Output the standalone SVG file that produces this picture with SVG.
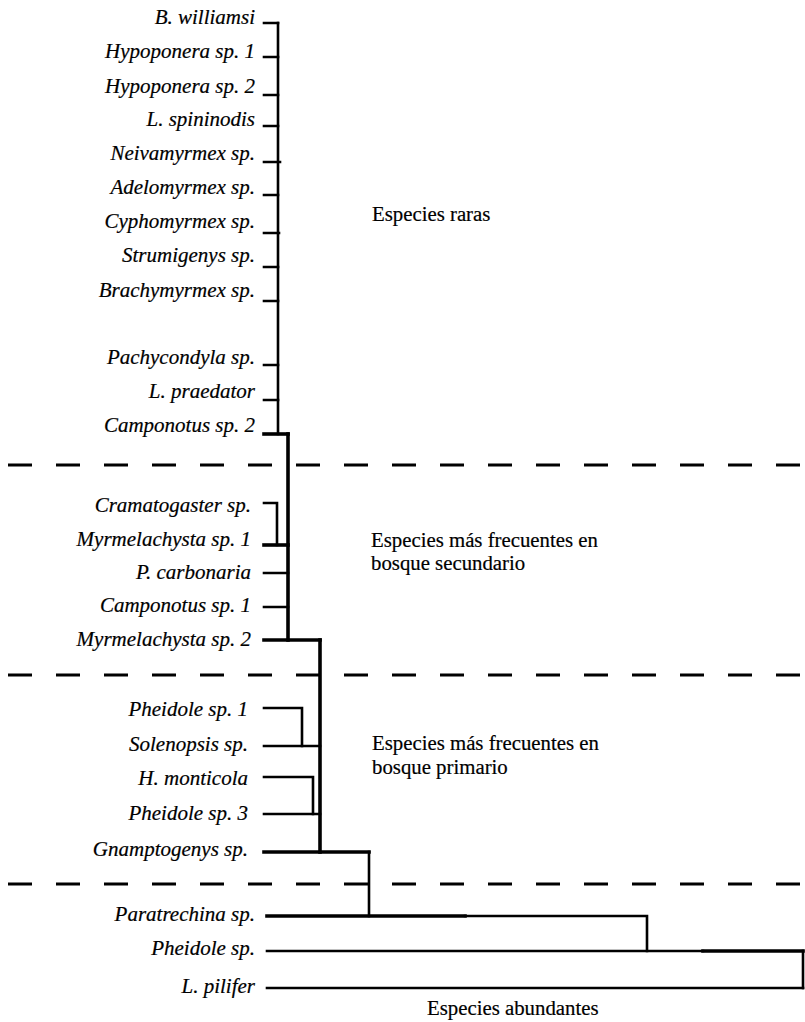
<svg xmlns="http://www.w3.org/2000/svg" width="805" height="1022" viewBox="0 0 805 1022">
<style>
.sp{font-family:'Liberation Serif','Times New Roman',serif;font-style:italic;font-size:21px;fill:#000;text-anchor:end;stroke:#000;stroke-width:0.2px}
.grp{font-family:'Liberation Serif','Times New Roman',serif;font-size:20.8px;fill:#000;stroke:#000;stroke-width:0.2px}
.ln{stroke:#000;stroke-width:2.6;fill:none;stroke-linecap:square}
.th{stroke:#000;stroke-width:3.6;fill:none;stroke-linecap:square}
.dash{stroke:#000;stroke-width:3;stroke-dasharray:24 24;fill:none}
</style>
<rect width="805" height="1022" fill="#fff"/>
<g id="separators">
<line class="dash" x1="8" y1="465" x2="805" y2="465"/>
<line class="dash" x1="8" y1="675" x2="805" y2="675"/>
<line class="dash" x1="8" y1="884" x2="805" y2="884"/>
</g>
<g id="connectors">
<path class="ln" d="M264 23H278M264 57H278M264 95H278M264 126H278M264 162H280M264 195H278M264 233H279M264 267H278M264 301H278M264 365H278M264 400H278"/>
<path class="ln" d="M278 23V434"/>
<path class="th" d="M264 434H288"/>
<path class="th" d="M288 434V640"/>
<path class="ln" d="M264 503H277V545"/>
<path class="th" d="M264 545H288"/>
<path class="ln" d="M264 573H288M264 607H288"/>
<path class="th" d="M264 640H320"/>
<path class="th" d="M320 640V852"/>
<path class="ln" d="M264 708H302V746"/>
<path class="ln" d="M264 746H320"/>
<path class="ln" d="M264 777H313V814"/>
<path class="ln" d="M264 814H320"/>
<path class="th" d="M264 852H369"/>
<path class="ln" d="M369 852V916"/>
<path class="th" d="M267 916H465"/>
<path class="ln" d="M465 916H647V951"/>
<path class="ln" d="M267 951H703"/>
<path class="th" d="M703 951H803"/>
<path class="ln" d="M803 951V988"/>
<path class="ln" d="M267 988H803"/>
</g>
<g id="n-b-williamsi"><text class="sp" x="255" y="24">B. williamsi</text></g>
<g id="n-hypoponera-1"><text class="sp" x="255" y="58">Hypoponera sp. 1</text></g>
<g id="n-hypoponera-2"><text class="sp" x="255" y="93">Hypoponera sp. 2</text></g>
<g id="n-l-spininodis"><text class="sp" x="255" y="126">L. spininodis</text></g>
<g id="n-neivamyrmex"><text class="sp" x="255" y="160">Neivamyrmex sp.</text></g>
<g id="n-adelomyrmex"><text class="sp" x="255" y="194">Adelomyrmex sp.</text></g>
<g id="n-cyphomyrmex"><text class="sp" x="255" y="228">Cyphomyrmex sp.</text></g>
<g id="n-strumigenys"><text class="sp" x="255" y="262">Strumigenys sp.</text></g>
<g id="n-brachymyrmex"><text class="sp" x="255" y="297">Brachymyrmex sp.</text></g>
<g id="n-pachycondyla"><text class="sp" x="255" y="364">Pachycondyla sp.</text></g>
<g id="n-l-praedator"><text class="sp" x="255" y="398">L. praedator</text></g>
<g id="n-camponotus-2"><text class="sp" x="255" y="432">Camponotus sp. 2</text></g>
<g id="n-cramatogaster"><text class="sp" x="251" y="512">Cramatogaster sp.</text></g>
<g id="n-myrmelachysta-1"><text class="sp" x="251" y="546">Myrmelachysta sp. 1</text></g>
<g id="n-p-carbonaria"><text class="sp" x="251" y="579">P. carbonaria</text></g>
<g id="n-camponotus-1"><text class="sp" x="251" y="612">Camponotus sp. 1</text></g>
<g id="n-myrmelachysta-2"><text class="sp" x="251" y="646">Myrmelachysta sp. 2</text></g>
<g id="n-pheidole-1"><text class="sp" x="248" y="716">Pheidole sp. 1</text></g>
<g id="n-solenopsis"><text class="sp" x="248" y="751">Solenopsis sp.</text></g>
<g id="n-h-monticola"><text class="sp" x="248" y="785">H. monticola</text></g>
<g id="n-pheidole-3"><text class="sp" x="248" y="820">Pheidole sp. 3</text></g>
<g id="n-gnamptogenys"><text class="sp" x="248" y="856">Gnamptogenys sp.</text></g>
<g id="n-paratrechina"><text class="sp" x="255" y="921">Paratrechina sp.</text></g>
<g id="n-pheidole"><text class="sp" x="255" y="955">Pheidole sp.</text></g>
<g id="n-l-pilifer"><text class="sp" x="255" y="993">L. pilifer</text></g>
<g id="g-raras"><text class="grp" x="372" y="221">Especies raras</text></g>
<g id="g-secundario"><text class="grp" x="371" y="547">Especies más frecuentes en</text><text class="grp" x="371" y="570">bosque secundario</text></g>
<g id="g-primario"><text class="grp" x="372" y="750">Especies más frecuentes en</text><text class="grp" x="372" y="774">bosque primario</text></g>
<g id="g-abundantes"><text class="grp" x="427" y="1015">Especies abundantes</text></g>
</svg>
